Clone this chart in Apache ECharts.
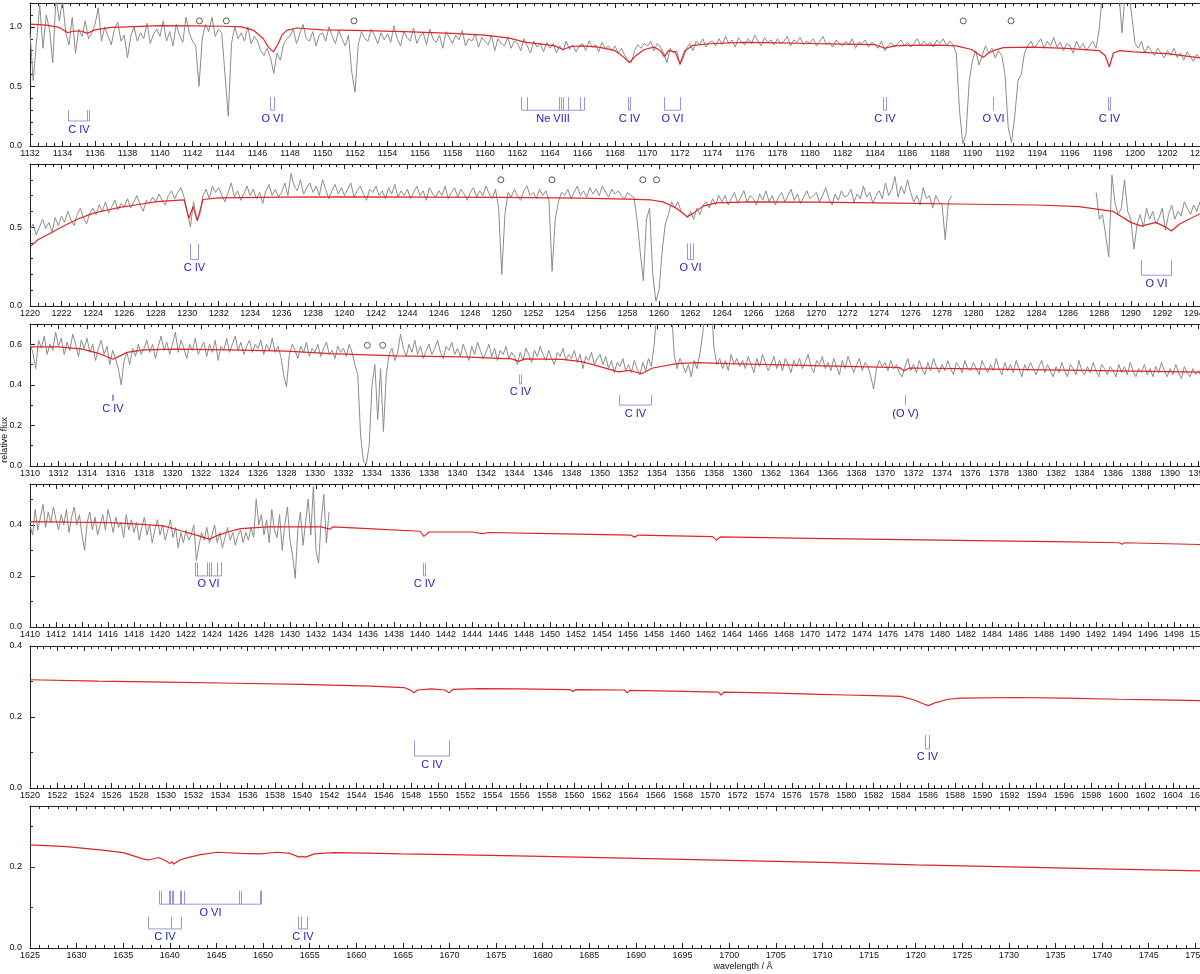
<!DOCTYPE html>
<html><head><meta charset="utf-8">
<script src="https://cdn.jsdelivr.net/npm/echarts@6/dist/echarts.min.js"></script>
<style>html,body{margin:0;padding:0;background:#fff}#c{width:1200px;height:974px}</style>
</head><body><div id="c"></div>
<script>
// ---------- axis ranges per panel ----------
const xMin = [1132, 1220, 1310, 1410, 1520, 1625];
const xMax = [1204, 1294.4, 1392.1, 1500, 1606, 1750.5];
const xInterval = [2, 2, 2, 2, 2, 5];
const xMinorSplit = [4, 4, 4, 4, 4, 5];
const yMax = [1.2, 0.9, 0.7, 0.56, 0.4, 0.35];
const yInterval = [0.5, 0.5, 0.2, 0.2, 0.2, 0.2];
const yMinorSplit = [5, 5, 2, 2, 2, 2];

// ---------- observed spectrum (uniform 0.2 A sampling) ----------
const obsStep = 0.2;
const obsP1Start = 1132.0;
const obsP1 = [
.95,.55,.88,1.18,.82,1.10,.98,.70,1.25,1.05,
1.22,.95,.85,1.08,.78,.98,.92,1.05,.90,.95,
1.02,1.16,.88,1.00,.92,.85,.98,1.04,.88,.93,
.74,.92,1.00,.88,.95,.90,1.03,.86,.94,.98,
.92,1.05,.88,.96,.84,1.02,.93,.87,1.08,.95,
.88,.84,.50,.90,1.02,.96,1.08,.92,.98,.95,
.60,.25,.86,1.00,.90,.95,.88,1.00,.86,.92,
.88,.80,.76,.82,.74,.61,.78,.72,.85,.90,
.92,.98,.86,.94,1.02,.90,.88,.96,.84,.93,
.95,.88,1.00,.92,.86,.97,.90,.84,.93,.62,
.45,.85,.96,.90,.88,.98,.93,.86,.95,.89,
.94,.87,1.01,.90,.84,.96,.91,.88,.99,.86,
.92,.95,.85,.98,.90,.87,.93,.82,.96,.91,
.86,.93,.89,.97,.84,.90,.88,.94,.83,.91,
.88,.85,.93,.80,.90,.86,.84,.91,.82,.88,
.86,.80,.90,.84,.78,.88,.83,.86,.79,.87,
.82,.86,.78,.84,.80,.88,.81,.85,.79,.84,
.86,.80,.88,.83,.85,.79,.87,.82,.84,.80,
.84,.78,.82,.76,.72,.70,.80,.85,.82,.86,
.84,.88,.80,.86,.83,.78,.70,.82,.78,.80,
.68,.74,.82,.86,.80,.88,.85,.90,.83,.87,
.88,.84,.90,.85,.92,.86,.89,.83,.91,.87,
.85,.90,.86,.93,.88,.84,.91,.87,.89,.85,
.90,.86,.88,.92,.84,.89,.87,.91,.85,.88,
.86,.90,.84,.88,.92,.85,.87,.83,.89,.86,
.84,.88,.85,.90,.82,.87,.86,.89,.83,.87,
.85,.82,.88,.80,.84,.87,.83,.86,.89,.84,
.87,.83,.86,.90,.84,.88,.85,.87,.83,.89,
.86,.90,.84,.88,.85,.78,.30,.02,.10,.55,
.72,.80,.68,.76,.84,.78,.82,.74,.80,.76,
.60,.15,.03,.25,.55,.60,.78,.84,.88,.82,
.86,.90,.82,.88,.84,.91,.83,.87,.80,.86,
.84,.78,.88,.82,.86,.80,.84,.88,.82,.98,
1.30,1.30,1.30,1.30,1.30,1.30,.95,1.30,1.30,1.10,
.86,.82,.88,.78,.84,.80,.76,.82,.78,.74,
.80,.76,.82,.74,.78,.72,.79,.75,.71,.77,
.74];

const obsP2aStart = 1220.0;
const obsP2a = [
.48,.52,.45,.50,.55,.49,.53,.47,.56,.51,
.57,.53,.60,.55,.51,.58,.62,.56,.52,.59,
.62,.58,.64,.60,.66,.59,.63,.67,.61,.65,
.63,.68,.62,.66,.70,.64,.60,.67,.65,.69,
.66,.71,.67,.64,.70,.73,.68,.72,.75,.69,
.60,.50,.66,.55,.58,.70,.74,.68,.76,.72,
.75,.70,.66,.72,.78,.69,.73,.67,.71,.76,
.70,.74,.68,.72,.65,.73,.77,.70,.74,.69,
.72,.78,.70,.84,.76,.73,.80,.71,.75,.78,
.72,.76,.70,.80,.74,.68,.73,.77,.71,.75,
.70,.74,.78,.69,.73,.76,.71,.67,.74,.72,
.76,.70,.73,.68,.75,.71,.77,.69,.73,.70,
.74,.68,.72,.76,.70,.73,.67,.75,.71,.69,
.73,.70,.76,.68,.72,.75,.69,.74,.71,.67,
.72,.75,.69,.73,.70,.76,.71,.68,.74,.62,
.20,.58,.72,.69,.74,.70,.67,.73,.76,.70,
.72,.68,.74,.70,.73,.67,.22,.55,.66,.72,
.70,.74,.68,.72,.76,.70,.73,.69,.75,.71,
.74,.70,.76,.72,.69,.74,.71,.73,.70,.68,
.72,.70,.69,.55,.35,.16,.55,.62,.20,.03,
.10,.35,.52,.58,.66,.62,.66,.60,.58,.56,
.60,.55,.62,.58,.64,.66,.62,.68,.64,.70,
.66,.70,.64,.68,.72,.65,.69,.73,.66,.70,
.68,.64,.71,.67,.73,.66,.70,.64,.69,.72,
.66,.70,.74,.67,.71,.65,.69,.73,.68,.70,
.72,.66,.70,.75,.68,.64,.71,.67,.73,.69,
.70,.74,.66,.71,.68,.76,.69,.72,.65,.70,
.73,.68,.78,.70,.74,.82,.69,.76,.71,.80,
.72,.66,.70,.64,.75,.68,.70,.62,.70,.66,
.64,.42,.66,.70];

const obsP2bStart = 1287.8;
const obsP2b = [
.72,.55,.58,.45,.31,.83,.65,.58,.62,.80,
.60,.55,.36,.52,.58,.50,.62,.55,.60,.52,
.56,.62,.48,.58,.64,.55,.60,.57,.66,.62,
.58,.64,.60,.66];

const obsP3Start = 1310.0;
const obsP3 = [
.60,.56,.48,.62,.58,.64,.55,.60,.57,.66,
.59,.63,.55,.61,.57,.65,.60,.54,.62,.58,
.63,.56,.60,.52,.58,.62,.55,.59,.50,.57,
.53,.48,.40,.52,.56,.50,.58,.54,.60,.55,
.58,.62,.56,.60,.53,.59,.64,.57,.61,.55,
.60,.66,.56,.62,.58,.53,.60,.57,.63,.55,
.58,.61,.54,.60,.56,.62,.52,.59,.57,.63,
.56,.60,.64,.57,.61,.55,.59,.62,.56,.60,
.58,.62,.55,.60,.57,.63,.56,.59,.54,.45,
.39,.55,.60,.57,.53,.59,.56,.61,.54,.58,
.56,.60,.54,.58,.61,.55,.57,.53,.59,.56,
.58,.54,.60,.56,.50,.45,.15,.02,.01,.10,
.40,.50,.23,.48,.17,.45,.55,.58,.52,.56,
.65,.58,.54,.60,.56,.62,.55,.59,.53,.57,
.60,.55,.58,.62,.56,.53,.59,.57,.61,.55,
.58,.54,.60,.56,.52,.59,.55,.61,.57,.53,
.56,.60,.54,.58,.52,.57,.55,.59,.53,.56,
.54,.50,.56,.52,.58,.55,.51,.57,.54,.59,
.55,.52,.57,.53,.50,.56,.54,.58,.52,.55,
.53,.57,.51,.55,.48,.54,.52,.56,.50,.53,
.55,.50,.54,.48,.52,.46,.51,.49,.53,.47,
.50,.46,.52,.48,.45,.51,.47,.53,.49,.60,
.78,.80,.80,.80,.80,.80,.55,.48,.53,.50,
.46,.50,.44,.52,.48,.55,.65,.80,.80,.80,
.58,.50,.53,.48,.52,.47,.55,.50,.53,.49,
.52,.48,.54,.50,.46,.53,.49,.55,.51,.47,
.50,.54,.48,.52,.47,.53,.50,.46,.52,.49,
.53,.48,.51,.55,.49,.46,.52,.50,.54,.48,
.51,.47,.53,.49,.45,.52,.48,.54,.50,.46,
.50,.53,.47,.51,.49,.44,.38,.48,.52,.49,
.51,.47,.52,.48,.50,.46,.44,.49,.53,.47,
.50,.46,.52,.48,.45,.51,.47,.53,.49,.46,
.50,.47,.52,.48,.45,.51,.49,.46,.52,.48,
.47,.51,.48,.45,.52,.49,.46,.50,.47,.53,
.48,.45,.51,.47,.50,.46,.52,.48,.44,.50,
.47,.51,.48,.45,.49,.52,.46,.50,.47,.44,
.49,.46,.51,.47,.44,.50,.48,.45,.52,.47,
.45,.49,.46,.51,.47,.44,.50,.48,.45,.49,
.47,.44,.50,.46,.49,.45,.51,.47,.44,.48,
.46,.50,.45,.48,.44,.49,.46,.51,.47,.44,
.48,.45,.50,.46,.43,.49,.46,.44,.48,.45,
.47,.44];

const obsP4Start = 1410.0;
const obsP4 = [
.40,.36,.46,.38,.43,.48,.39,.45,.41,.47,
.42,.38,.44,.40,.46,.37,.43,.47,.40,.44,
.36,.30,.41,.45,.38,.43,.36,.40,.44,.38,
.46,.42,.37,.43,.39,.41,.35,.44,.38,.42,
.37,.41,.34,.39,.43,.36,.40,.33,.38,.42,
.36,.40,.34,.38,.42,.35,.39,.31,.37,.33,
.38,.34,.36,.40,.26,.32,.37,.34,.39,.33,
.36,.40,.33,.37,.31,.35,.39,.34,.37,.32,
.36,.38,.33,.37,.34,.39,.35,.50,.40,.44,
.36,.42,.33,.46,.38,.35,.44,.30,.40,.47,
.34,.28,.19,.38,.45,.32,.41,.50,.36,.55,
.30,.25,.42,.52,.33,.45];

// ---------- model spectrum [wavelength, flux] ----------
const modelP1 = [[1132,1.023],[1133,1.015],[1133.8,0.995],[1134.32,0.95],[1134.7,0.965],[1135.2,0.963],[1135.53,0.945],[1136,0.975],[1137,0.995],[1138,1.0],[1140,1.01],[1142,1.008],[1144,1.005],[1145,1.0],[1145.74,0.973],[1146.36,0.90],[1146.67,0.83],[1146.97,0.79],[1147.28,0.86],[1147.5,0.93],[1147.8,0.97],[1148.4,0.99],[1150,0.975],[1152,0.97],[1155,0.96],[1158,0.945],[1160,0.93],[1161.5,0.905],[1162.5,0.87],[1163.5,0.855],[1164.3,0.84],[1164.8,0.81],[1165.3,0.835],[1166,0.84],[1167,0.83],[1168,0.80],[1168.5,0.75],[1168.88,0.70],[1169.3,0.76],[1169.8,0.81],[1170.4,0.83],[1170.8,0.80],[1171.03,0.75],[1171.3,0.80],[1171.7,0.79],[1172,0.69],[1172.3,0.80],[1172.8,0.845],[1174,0.86],[1176,0.87],[1178,0.865],[1180,0.86],[1182,0.855],[1184,0.85],[1184.6,0.82],[1185.2,0.84],[1186,0.845],[1188,0.847],[1189,0.84],[1189.95,0.81],[1190.36,0.77],[1190.67,0.744],[1190.98,0.78],[1191.38,0.805],[1191.9,0.825],[1193.7,0.83],[1195.8,0.82],[1197.8,0.80],[1198.16,0.76],[1198.42,0.665],[1198.67,0.78],[1199.08,0.80],[1199.9,0.79],[1201.96,0.775],[1204,0.74]];
const modelP2 = [[1220,0.375],[1220.5,0.42],[1221.27,0.46],[1222.1,0.506],[1223,0.55],[1224,0.587],[1225,0.61],[1225.7,0.625],[1227,0.645],[1228.1,0.661],[1229,0.668],[1229.8,0.672],[1230.1,0.555],[1230.37,0.63],[1230.64,0.54],[1231,0.675],[1232,0.685],[1236,0.69],[1240,0.692],[1245,0.69],[1250,0.688],[1255,0.684],[1258,0.678],[1259.5,0.672],[1260.26,0.66],[1261.1,0.62],[1261.5,0.59],[1261.81,0.565],[1262.17,0.587],[1262.8,0.633],[1263.65,0.654],[1265.77,0.66],[1270,0.658],[1275,0.652],[1280,0.645],[1284,0.64],[1286.7,0.63],[1288.86,0.60],[1290,0.53],[1290.67,0.506],[1291.6,0.53],[1292.2,0.50],[1292.58,0.475],[1293.1,0.52],[1294.4,0.585]];
const modelP3 = [[1310,0.587],[1312,0.587],[1313.7,0.576],[1314.8,0.555],[1315.85,0.526],[1316.8,0.56],[1318,0.572],[1320.2,0.576],[1324,0.572],[1328,0.566],[1331.05,0.554],[1335.7,0.543],[1340.4,0.538],[1343.8,0.528],[1344.3,0.516],[1344.7,0.528],[1347.4,0.526],[1348.8,0.513],[1350,0.49],[1351.28,0.464],[1352.1,0.471],[1352.9,0.455],[1353.7,0.483],[1355.4,0.505],[1356.8,0.51],[1359,0.505],[1362,0.50],[1365,0.495],[1368,0.49],[1371,0.485],[1371.35,0.47],[1371.7,0.483],[1375,0.48],[1380,0.475],[1385,0.47],[1392.1,0.463]];
const modelP4 = [[1410,0.413],[1413,0.411],[1416.15,0.409],[1418,0.404],[1420.26,0.396],[1421.6,0.377],[1422.8,0.36],[1423.8,0.344],[1424.5,0.36],[1425.2,0.372],[1426.2,0.385],[1428.3,0.392],[1432.4,0.392],[1433.05,0.383],[1433.3,0.392],[1436,0.385],[1440,0.375],[1440.3,0.355],[1440.7,0.372],[1444,0.372],[1444.8,0.366],[1445.3,0.37],[1450,0.366],[1456.2,0.36],[1456.5,0.352],[1456.8,0.36],[1462.5,0.354],[1462.8,0.34],[1463.1,0.353],[1470,0.347],[1480,0.34],[1490,0.333],[1493.8,0.33],[1494,0.324],[1494.2,0.33],[1500,0.323]];
const modelP5 = [[1520,0.305],[1525,0.301],[1530,0.298],[1535,0.295],[1540,0.292],[1545,0.287],[1547.5,0.283],[1548,0.275],[1548.2,0.268],[1548.5,0.276],[1549.5,0.279],[1550.5,0.276],[1550.8,0.268],[1551.1,0.278],[1553,0.28],[1556,0.279],[1559.7,0.277],[1559.9,0.272],[1560.1,0.277],[1563.7,0.276],[1563.9,0.268],[1564.1,0.275],[1568,0.272],[1570.6,0.27],[1570.8,0.262],[1571,0.27],[1575,0.267],[1578,0.264],[1580,0.262],[1582,0.26],[1584,0.258],[1585,0.248],[1585.6,0.238],[1586.05,0.232],[1586.5,0.24],[1587.5,0.25],[1588.4,0.253],[1592.5,0.255],[1596,0.253],[1600,0.25],[1603,0.248],[1606,0.246]];
const modelP6 = [[1625,0.254],[1628.9,0.25],[1632.5,0.242],[1635,0.235],[1637.2,0.219],[1637.7,0.217],[1638.8,0.223],[1639.7,0.213],[1640,0.208],[1640.2,0.213],[1640.4,0.207],[1641.1,0.217],[1641.8,0.222],[1643.3,0.23],[1645.1,0.236],[1647.6,0.233],[1649.7,0.232],[1651.5,0.236],[1652.9,0.233],[1653.85,0.224],[1654.2,0.226],[1654.57,0.224],[1655.5,0.232],[1657.6,0.235],[1661.2,0.234],[1664.8,0.232],[1670,0.23],[1680,0.226],[1690,0.221],[1700,0.216],[1710,0.211],[1720,0.205],[1730,0.2],[1740,0.195],[1750.5,0.19]];

// ---------- line identifications: label, line wavelengths, tick top / bottom flux ----------
const idsP1 = [
  {label:'C IV', lines:[1134.32,1135.53,1135.65], top:0.30, bottom:0.21},
  {label:'O VI', lines:[1146.77,1147.0], top:0.41, bottom:0.30},
  {label:'Ne VIII', lines:[1162.2,1162.56,1164.55,1164.7,1164.82,1165.09,1165.85,1166.11], top:0.41, bottom:0.30},
  {label:'C IV', lines:[1168.82,1168.94], top:0.41, bottom:0.30},
  {label:'O VI', lines:[1171.03,1172.0], top:0.41, bottom:0.30},
  {label:'C IV', lines:[1184.5,1184.7], top:0.41, bottom:0.30},
  {label:'O VI', lines:[1191.24], top:0.41, bottom:0.30},
  {label:'C IV', lines:[1198.32,1198.46], top:0.41, bottom:0.30}];
const idsP2 = [
  {label:'C IV', lines:[1230.15,1230.68], top:0.395, bottom:0.295},
  {label:'O VI', lines:[1261.81,1261.96,1262.13], top:0.397, bottom:0.295},
  {label:'O VI', lines:[1290.67,1292.58], top:0.29, bottom:0.195}];
const idsP3 = [
  {label:'C IV', lines:[1315.75,1315.85], top:0.352, bottom:0.323},
  {label:'C IV', lines:[1344.3,1344.45], top:0.45, bottom:0.405},
  {label:'C IV', lines:[1351.3,1353.6], top:0.35, bottom:0.30},
  {label:'(O V)', lines:[1371.4], top:0.35, bottom:0.30}];
const idsP4 = [
  {label:'O VI', lines:[1422.67,1422.82,1423.59,1423.74,1423.92,1424.41,1424.72], top:0.253, bottom:0.20},
  {label:'C IV', lines:[1440.25,1440.35], top:0.25, bottom:0.20}];
const idsP5 = [
  {label:'C IV', lines:[1548.2,1550.8], top:0.134, bottom:0.09},
  {label:'C IV', lines:[1585.8,1586.1], top:0.15, bottom:0.11}];
const idsP6 = [
  {label:'O VI', lines:[1638.87,1639.05,1639.91,1640.05,1640.19,1640.38,1641.05,1641.24,1641.56,1647.44,1647.66,1649.62,1649.81], top:0.141, bottom:0.108},
  {label:'C IV', lines:[1637.66,1640.16,1641.16], top:0.077, bottom:0.047},
  {label:'C IV', lines:[1653.74,1654.03,1654.68], top:0.077, bottom:0.047}];

// ---------- interstellar line markers [wavelength, flux] ----------
const ismP1 = [[1142.43,1.05],[1144.08,1.05],[1151.94,1.05],[1189.43,1.05],[1192.37,1.05]];
const ismP2 = [[1249.94,0.80],[1253.19,0.80],[1258.97,0.80],[1259.84,0.80]];
const ismP3 = [[1333.67,0.595],[1334.75,0.595]];

const axisTitleX = 'wavelength / Å';
const axisTitleY = 'relative flux';

// ---------- build chart ----------
function seg(start, vals) { return vals.map((v, i) => [+(start + i * obsStep).toFixed(2), v]); }
const obsData = [
  seg(obsP1Start, obsP1),
  seg(obsP2aStart, obsP2a).concat([[1283, null]], seg(obsP2bStart, obsP2b)),
  seg(obsP3Start, obsP3),
  seg(obsP4Start, obsP4),
  null, null];
const models = [modelP1, modelP2, modelP3, modelP4, modelP5, modelP6];
const ids = [idsP1, idsP2, idsP3, idsP4, idsP5, idsP6];
const isms = [ismP1, ismP2, ismP3, null, null, null];

const gridTop = [3, 164, 324, 484, 646, 806];
const gridH = [143, 142, 142, 143, 142, 142];
const FONT = 'Liberation Sans, Arial, sans-serif';
const axisColor = '#222';
const tickColor = '#9696e2';
const idColor = '#2222c4';

function isMult(v, step) { const r = v / step; return Math.abs(r - Math.round(r)) < 1e-6; }

const grids = [], xAxes = [], yAxes = [], series = [];
for (let i = 0; i < 6; i++) {
  grids.push({left: 30, right: 0, top: gridTop[i], height: gridH[i], containLabel: false, outerBoundsMode: 'none'});
  const xBase = {
    type: 'value', gridIndex: i, min: xMin[i], max: xMax[i], interval: xInterval[i],
    axisLine: {show: true, onZero: false, lineStyle: {color: axisColor, width: 1}},
    axisTick: {show: true, inside: true, length: 5, lineStyle: {color: axisColor}},
    minorTick: {show: true, splitNumber: xMinorSplit[i], length: 3, lineStyle: {color: axisColor}},
    splitLine: {show: false}, minorSplitLine: {show: false}
  };
  xAxes.push(Object.assign({}, xBase, {position: 'bottom',
    axisLabel: {show: true, fontSize: 9, fontFamily: FONT, color: '#111', margin: 3, hideOverlap: false,
      formatter: v => isMult(v, xInterval[i]) ? String(Math.round(v)) : ''}}));
  xAxes.push(Object.assign({}, xBase, {position: 'top', axisLabel: {show: false}}));
  yAxes.push({
    type: 'value', gridIndex: i, min: 0, max: yMax[i], interval: yInterval[i],
    axisLine: {show: true, onZero: false, lineStyle: {color: axisColor, width: 1}},
    axisTick: {show: true, inside: true, length: 5, lineStyle: {color: axisColor}},
    minorTick: {show: true, splitNumber: yMinorSplit[i], length: 3, lineStyle: {color: axisColor}},
    splitLine: {show: false},
    axisLabel: {fontSize: 9, fontFamily: FONT, color: '#111', margin: 8,
      formatter: v => isMult(v, yInterval[i]) ? v.toFixed(1) : ''}
  });
  if (obsData[i]) {
    series.push({type: 'line', xAxisIndex: 2 * i, yAxisIndex: i, data: obsData[i], showSymbol: false,
      symbol: 'none', connectNulls: false, silent: true, clip: true, z: 2,
      lineStyle: {color: '#8c8c8c', width: 1}});
  }
  series.push({type: 'line', xAxisIndex: 2 * i, yAxisIndex: i, data: models[i], showSymbol: false,
    symbol: 'none', silent: true, clip: true, z: 3,
    lineStyle: {color: '#e0242a', width: 1.2}});
  const groups = ids[i];
  series.push({type: 'custom', xAxisIndex: 2 * i, yAxisIndex: i, silent: true, z: 4,
    data: groups.map((g, k) => [g.lines[0], g.bottom, k]),
    renderItem: (params, api) => {
      const g = groups[api.value(2)];
      const yT = api.coord([g.lines[0], g.top])[1];
      const yB = api.coord([g.lines[0], g.bottom])[1];
      const xs = g.lines.map(l => Math.round(api.coord([l, g.bottom])[0]) + 0.5);
      const ch = [];
      xs.forEach(x => ch.push({type: 'line', shape: {x1: x, y1: yT, x2: x, y2: yB},
        style: {stroke: tickColor, lineWidth: 1}}));
      const x0 = Math.min(...xs), x1 = Math.max(...xs);
      if (x1 > x0) ch.push({type: 'line', shape: {x1: x0, y1: yB, x2: x1, y2: yB},
        style: {stroke: tickColor, lineWidth: 1}});
      ch.push({type: 'text', x: (x0 + x1) / 2, y: yB + 3,
        style: {text: g.label, fill: idColor, fontSize: 11, fontFamily: FONT,
          align: 'center', verticalAlign: 'top'}});
      return {type: 'group', children: ch};
    }});
  if (isms[i]) {
    series.push({type: 'scatter', xAxisIndex: 2 * i, yAxisIndex: i, data: isms[i], silent: true, z: 5,
      symbol: 'circle', symbolSize: 6,
      itemStyle: {color: 'rgba(0,0,0,0)', borderColor: '#333', borderWidth: 1}});
  }
}

const chart = echarts.init(document.getElementById('c'), null, {renderer: 'canvas'});
chart.setOption({
  animation: false,
  backgroundColor: '#fff',
  grid: grids, xAxis: xAxes, yAxis: yAxes, series: series,
  graphic: [
    {type: 'text', x: 743, y: 967, style: {text: axisTitleX, fontSize: 9, fontFamily: FONT, fill: '#111', align: 'center', verticalAlign: 'middle'}},
    {type: 'text', x: 5, y: 440, rotation: Math.PI / 2, style: {text: axisTitleY, fontSize: 9, fontFamily: FONT, fill: '#111', align: 'center', verticalAlign: 'middle'}}
  ]
});
</script></body></html>
